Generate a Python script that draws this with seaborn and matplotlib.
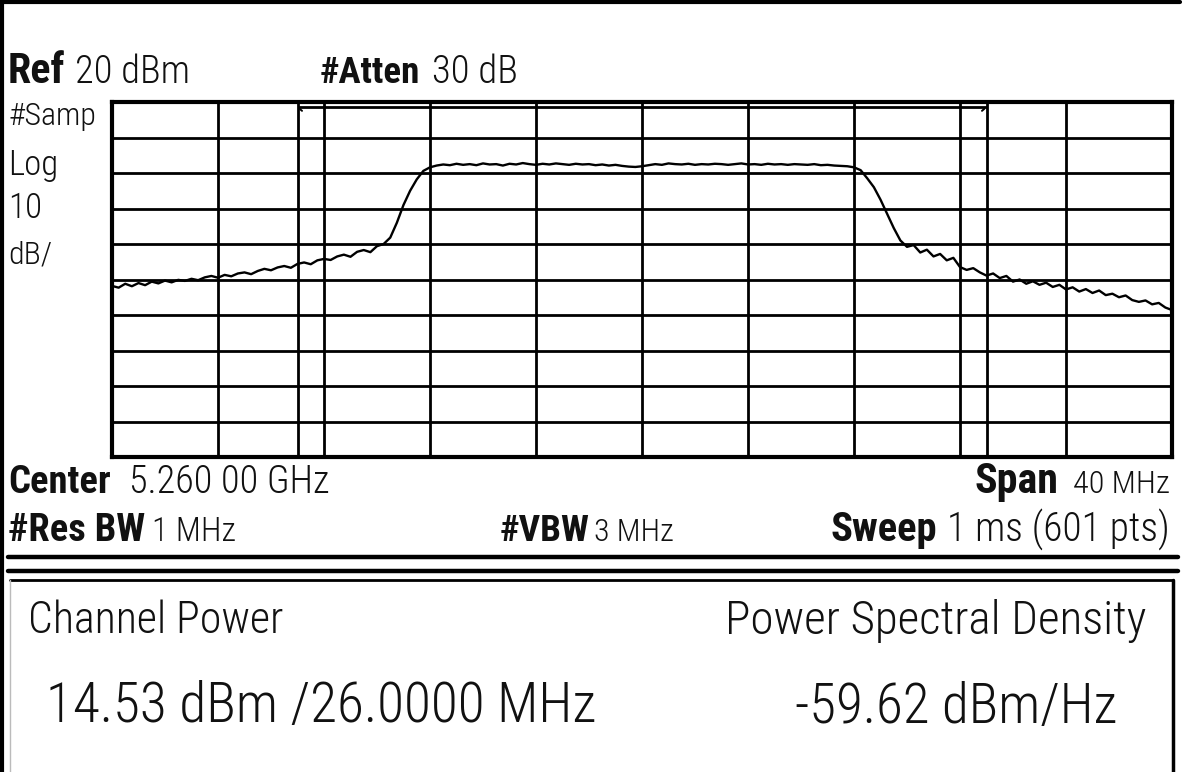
import matplotlib
matplotlib.use("Agg")
import matplotlib.pyplot as plt
from matplotlib import font_manager
import seaborn as sns
import numpy as np
import pandas as pd

# sweep settings (MHz)
center_mhz = 5260.0
span_mhz = 40.0
ref_dbm = 20.0
db_per_div = 10.0
chan_bw_mhz = 26.0

# trace, one value every 0.25 MHz from -20 to +20 MHz
level_dbm = [
    -31.8, -32.3, -31.2, -31.9, -31.0, -31.6, -30.6, -31.1, -30.3, -30.8,
    -30.1, -30.4, -29.8, -30.2, -29.4, -29.0, -29.5, -28.7, -29.1, -28.3,
    -28.0, -28.5, -27.6, -27.0, -27.4, -26.6, -26.2, -26.7, -25.6, -25.2,
    -25.7, -24.6, -24.2, -24.5, -23.5, -23.0, -23.6, -22.2, -21.7, -22.3,
    -20.6, -20.0, -18.2, -14.0, -9.0, -5.0, -1.8, 0.6, 1.6, 2.1,
    2.4, 2.2, 2.6, 2.3, 2.5, 2.2, 2.7, 2.4, 2.5, 2.1,
    2.6, 2.4, 2.8, 2.5, 2.3, 2.6, 2.4, 2.7, 2.5, 2.3,
    2.6, 2.4, 2.5, 2.2, 2.4, 2.1, 2.3, 2.0, 1.8, 1.7,
    1.9, 2.2, 2.5, 2.3, 2.7, 2.5, 2.4, 2.6, 2.3, 2.5,
    2.4, 2.6, 2.5, 2.3, 2.5, 2.7, 2.4, 2.5, 2.3, 2.6,
    2.4, 2.5, 2.3, 2.5, 2.4, 2.3, 2.5, 2.2, 2.3, 2.1,
    2.0, 1.9, 1.6, 0.8, -1.5, -4.0, -7.5, -11.5, -15.5, -19.0,
    -20.8, -20.3, -22.4, -21.6, -23.5, -22.8, -24.6, -23.9, -26.5, -27.3,
    -26.8, -28.0, -28.9, -28.3, -29.6, -29.0, -30.6, -30.0, -31.2, -30.5,
    -31.5, -30.9, -32.1, -31.5, -32.8, -32.2, -33.4, -32.7, -33.8, -33.1,
    -34.4, -34.0, -35.0, -34.5, -35.8, -36.3, -35.9, -37.0, -36.6, -37.9,
    -38.6,
]

# header / footer strings: (text, bold)
header_top = [("Ref", True), ("20 dBm", False), ("#Atten", True), ("30 dB", False)]
side_labels = ["#Samp", "Log", "10", "dB/"]
footer_1 = [("Center", True), ("5.260 00 GHz", False), ("Span", True), ("40 MHz", False)]
footer_2 = [("#Res BW", True), ("1 MHz", False), ("#VBW", True), ("3 MHz", False),
            ("Sweep", True), ("1 ms (601 pts)", False)]
result_titles = ["Channel Power", "Power Spectral Density"]
result_values = ["14.53 dBm /26.0000 MHz", "-59.62 dBm/Hz"]

W, H = 1185, 772
sns.set_style("white")
names = {f.name for f in font_manager.fontManager.ttflist}
FONT = next((n for n in ["Liberation Sans Narrow", "DejaVu Sans Condensed",
                         "Roboto Condensed", "Open Sans Condensed"] if n in names),
            "DejaVu Sans")
plt.rcParams["font.family"] = [FONT, "DejaVu Sans"]

fig = plt.figure(figsize=(W / 100, H / 100), dpi=100)

# ---- spectrum screen ----
left, right, top, bottom = 112, 1172, 102, 457
ax = fig.add_axes([left / W, 1 - bottom / H, (right - left) / W, (bottom - top) / H])

freq = np.linspace(center_mhz - span_mhz / 2, center_mhz + span_mhz / 2, len(level_dbm))
df = pd.DataFrame({"freq": freq, "level": level_dbm})
sns.lineplot(data=df, x="freq", y="level", ax=ax, color="black", lw=1.7)

ax.set_xlim(center_mhz - span_mhz / 2, center_mhz + span_mhz / 2)
ax.set_ylim(ref_dbm - 10 * db_per_div, ref_dbm)
ax.set_xticks(np.linspace(center_mhz - span_mhz / 2, center_mhz + span_mhz / 2, 11))
ax.set_yticks(np.arange(ref_dbm - 10 * db_per_div, ref_dbm + 1, db_per_div))
ax.grid(True, color="black", lw=2.0)
ax.tick_params(length=0, labelbottom=False, labelleft=False)
ax.set_xlabel("")
ax.set_ylabel("")
for sp in ax.spines.values():
    sp.set_visible(True)
    sp.set_color("black")
    sp.set_linewidth(3.0)

# channel power integration markers
lo, hi = center_mhz - chan_bw_mhz / 2, center_mhz + chan_bw_mhz / 2
ax.axvline(lo, color="black", lw=2.0)
ax.axvline(hi, color="black", lw=2.0)
ax.hlines(ref_dbm - 1.4, lo, hi, color="black", lw=2.0)
ax.annotate("", xy=(lo + 0.25, ref_dbm - 3.0), xytext=(lo, ref_dbm - 1.4),
            arrowprops=dict(arrowstyle="-", color="black", lw=1.4))
ax.annotate("", xy=(hi - 0.25, ref_dbm - 3.0), xytext=(hi, ref_dbm - 1.4),
            arrowprops=dict(arrowstyle="-", color="black", lw=1.4))

# ---- frame and text, in pixel coordinates ----
ov = fig.add_axes([0, 0, 1, 1])
ov.set_xlim(0, W)
ov.set_ylim(H, 0)
ov.axis("off")
ov.patch.set_visible(False)

ov.plot([2, 2], [0, H], color="black", lw=3)
ov.plot([0, 1180], [2, 2], color="black", lw=3)
ov.plot([8, 1178], [557, 557], color="black", lw=3.2)
ov.plot([8, 1178], [571, 571], color="black", lw=3.2)
ov.plot([10, 1173], [580, 580], color="black", lw=2)
ov.plot([1173, 1173], [580, H], color="black", lw=2.5)
ov.plot([10, 10], [580, H], color="#bbbbbb", lw=1)

renderer = fig.canvas.get_renderer()


def put(x, y, s, width, bold=False, ha="left"):
    t = ov.text(x, y, s, ha=ha, va="baseline", fontsize=20,
                fontweight="bold" if bold else "light", color="#111111")
    bb = t.get_window_extent(renderer)
    t.set_fontsize(20 * width / bb.width)
    return t


# top line
xs = [(8, 57), (75, 115), (320, 100), (432, 86)]
for (s, b), (x, w) in zip(header_top, xs):
    put(x, 83, s, w, b)

# left scale labels
for s, y, w in zip(side_labels, [125, 175, 218, 263], [88, 50, 34, 44]):
    put(8, y, s, w)

# bottom annotation lines
xs = [(8, 102), (129, 201), (975, 84), (1073, 97)]
for (s, b), (x, w) in zip(footer_1, xs):
    put(x, 493, s, w, b)
xs = [(8, 137), (152, 84), (500, 90), (594, 80), (830, 106), (947, 223)]
for (s, b), (x, w) in zip(footer_2, xs):
    put(x, 541, s, w, b)

# channel power results
put(28, 633, result_titles[0], 255)
put(725, 634, result_titles[1], 420)
put(46, 722, result_values[0], 550)
put(795, 723, result_values[1], 322)

fig.savefig("out.png", dpi=100)
